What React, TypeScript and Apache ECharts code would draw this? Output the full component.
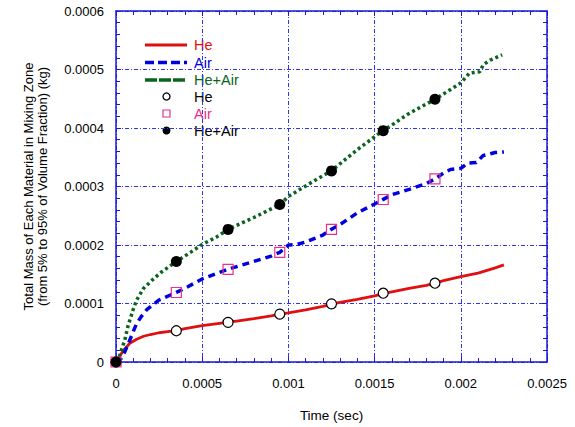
import React, { useEffect, useRef } from "react";
import * as echarts from "echarts";

// Curves (time in sec, mass in kg)
const heT = [0, 0.00001, 0.00003, 0.00005, 0.00008, 0.00012, 0.00016, 0.0002, 0.00025, 0.0003, 0.00035, 0.0004, 0.0005, 0.0006, 0.00065, 0.0007, 0.0008, 0.0009, 0.00095, 0.001, 0.0011, 0.0012, 0.00125, 0.0013, 0.0014, 0.0015, 0.00155, 0.0016, 0.0017, 0.0018, 0.00185, 0.0019, 0.002, 0.0021, 0.0022, 0.00225];
const heV = [0, 0.000004, 0.000014, 0.000022, 0.000032, 0.000039, 0.000044, 0.000047, 0.00005, 0.000052, 0.0000535, 0.000057, 0.000062, 0.000066, 0.000068, 0.00007, 0.000074, 0.000079, 0.000082, 0.000084, 0.000089, 0.000095, 0.000099, 0.000102, 0.000107, 0.000113, 0.000117, 0.00012, 0.000126, 0.000131, 0.000135, 0.000139, 0.000146, 0.000152, 0.000161, 0.000166];

const airT = [0, 0.00003, 0.00005, 0.00007, 0.0001, 0.00012, 0.00015, 0.00018, 0.00025, 0.00035, 0.0004, 0.0005, 0.00058, 0.00065, 0.0007, 0.0008, 0.0009, 0.00095, 0.001, 0.00105, 0.0011, 0.0012, 0.00125, 0.0013, 0.0014, 0.0015, 0.00155, 0.0016, 0.0017, 0.0018, 0.00185, 0.0019, 0.00194, 0.002, 0.00204, 0.00209, 0.00213, 0.0022, 0.00225];
const airV = [0, 0.000006, 0.000017, 0.00003, 0.000052, 0.000066, 0.000079, 0.00009, 0.000106, 0.000119, 0.000126, 0.000142, 0.000151, 0.0001585, 0.000163, 0.000172, 0.000181, 0.0001875, 0.0002, 0.000201, 0.000205, 0.000217, 0.000227, 0.000235, 0.000255, 0.00027, 0.000278, 0.000286, 0.000295, 0.000305, 0.000313, 0.000323, 0.000329, 0.000331, 0.00034, 0.000341, 0.000353, 0.000358, 0.000359];

const mixT = [0, 0.00002, 0.00004, 0.00005, 0.00007, 0.0001, 0.00012, 0.00014, 0.00016, 0.00021, 0.00026, 0.00035, 0.00043, 0.0005, 0.00058, 0.00065, 0.0008, 0.00095, 0.001, 0.0011, 0.00125, 0.0014, 0.00155, 0.0016, 0.00169, 0.00175, 0.00185, 0.00192, 0.002, 0.00205, 0.00211, 0.00213, 0.00217, 0.00224];
const mixV = [0, 0.00001, 0.000028, 0.000036, 0.000062, 0.00009, 0.000106, 0.000116, 0.000126, 0.00014, 0.000153, 0.0001717, 0.000187, 0.000201, 0.000213, 0.0002267, 0.000247, 0.000269, 0.000283, 0.000301, 0.000327, 0.000363, 0.000396, 0.000405, 0.000423, 0.000433, 0.000449, 0.000462, 0.000477, 0.000494, 0.000496, 0.000508, 0.000516, 0.000525];

// Markers
const markT = [0, 0.00035, 0.00065, 0.00095, 0.00125, 0.00155, 0.00185];
const heMark = [0, 0.0000534, 0.0000677, 0.0000818, 0.0000994, 0.0001176, 0.0001347];
const airMark = [0, 0.0001188, 0.0001585, 0.0001875, 0.0002267, 0.0002778, 0.0003131];
const mixMark = [0, 0.0001717, 0.0002267, 0.0002693, 0.0003267, 0.0003955, 0.000449];

const xTicks = [0, 0.0025, 0.0005];
const yTicks = [0, 0.0006, 0.0001];

const RED = "#e01010";
const BLUE = "#0000dd";
const GREEN = "#0a6420";
const MAGENTA = "#e8308c";
const AXIS = "#1a1ad8";
const FONT = "Liberation Sans, Arial, sans-serif";

const zip = (t: number[], v: number[]) => t.map((x, i) => [x, v[i]]);
const fmt = (v: number) => (v === 0 ? "0" : String(parseFloat(v.toFixed(5))));

export default function App() {
  const ref = useRef<HTMLDivElement>(null);
  useEffect(() => {
    if (!ref.current) return;
    const chart = echarts.init(ref.current, null, { renderer: "svg" });
    const axisCommon = {
      axisLine: { show: true, onZero: false, lineStyle: { color: AXIS, width: 1.5 } },
      axisTick: { show: true, inside: true, length: 5, lineStyle: { color: AXIS, width: 1 } },
      minorTick: { show: true, splitNumber: 5, length: 4, lineStyle: { color: AXIS, width: 1 } },
    };
    const gridLine = { show: true, lineStyle: { color: "#3333ee", width: 1, type: [4, 2, 1, 2] } };
    const legendX = 145;
    const legendRows = [45, 62.5, 80, 96.5, 113.5, 130.5];
    const legendTexts = [
      { t: "He", c: RED },
      { t: "Air", c: BLUE },
      { t: "He+Air", c: GREEN },
      { t: "He", c: "#000" },
      { t: "Air", c: MAGENTA },
      { t: "He+Air", c: "#000" },
    ];
    chart.setOption({
      animation: false,
      backgroundColor: "#fff",
      textStyle: { fontFamily: FONT },
      grid: { left: 116, top: 11, right: 28, bottom: 64, containLabel: false },
      xAxis: [
        {
          type: "value",
          min: xTicks[0],
          max: xTicks[1],
          interval: xTicks[2],
          position: "bottom",
          ...axisCommon,
          splitLine: gridLine,
          axisLabel: { color: "#000", fontSize: 13, margin: 15, formatter: fmt, fontFamily: FONT },
          name: "Time (sec)",
          nameLocation: "middle",
          nameGap: 46,
          nameTextStyle: { color: "#000", fontSize: 13.5, fontFamily: FONT },
        },
        {
          type: "value",
          min: xTicks[0],
          max: xTicks[1],
          interval: xTicks[2],
          position: "top",
          ...axisCommon,
          splitLine: { show: false },
          axisLabel: { show: false },
        },
      ],
      yAxis: [
        {
          type: "value",
          min: yTicks[0],
          max: yTicks[1],
          interval: yTicks[2],
          position: "left",
          ...axisCommon,
          splitLine: gridLine,
          axisLabel: { color: "#000", fontSize: 13, margin: 12, formatter: fmt, fontFamily: FONT },
          name: "Total Mass of Each Material in Mixing Zone\n(from 5% to 95% of Volume Fraction) (kg)",
          nameLocation: "middle",
          nameGap: 67,
          nameTextStyle: { color: "#000", fontSize: 13, lineHeight: 14, fontFamily: FONT },
        },
        {
          type: "value",
          min: yTicks[0],
          max: yTicks[1],
          interval: yTicks[2],
          position: "right",
          ...axisCommon,
          splitLine: { show: false },
          axisLabel: { show: false },
        },
      ],
      series: [
        {
          type: "line",
          data: zip(heT, heV),
          showSymbol: false,
          lineStyle: { color: RED, width: 2.8 },
          z: 3,
        },
        {
          type: "line",
          data: zip(airT, airV),
          showSymbol: false,
          lineStyle: { color: BLUE, width: 3.5, type: [7, 5] },
          z: 3,
        },
        {
          type: "line",
          data: zip(mixT, mixV),
          showSymbol: false,
          lineStyle: { color: GREEN, width: 3.5, type: [3, 3] },
          z: 3,
        },
        {
          type: "scatter",
          data: zip(markT, heMark),
          symbol: "circle",
          symbolSize: 10,
          itemStyle: { color: "#fff", borderColor: "#000", borderWidth: 1.2, opacity: 1 },
          z: 5,
        },
        {
          type: "scatter",
          data: zip(markT, airMark),
          symbol: "rect",
          symbolSize: 10,
          itemStyle: { color: "rgba(255,255,255,0)", borderColor: MAGENTA, borderWidth: 1.2, opacity: 1 },
          z: 6,
        },
        {
          type: "scatter",
          data: zip(markT, mixMark),
          symbol: "circle",
          symbolSize: 11,
          itemStyle: { color: "#000", opacity: 1 },
          z: 7,
        },
      ],
      graphic: [
        { type: "line", shape: { x1: legendX, y1: legendRows[0], x2: legendX + 42, y2: legendRows[0] }, style: { stroke: RED, lineWidth: 2.8 } },
        { type: "line", shape: { x1: legendX, y1: legendRows[1], x2: legendX + 42, y2: legendRows[1] }, style: { stroke: BLUE, lineWidth: 3.5, lineDash: [9, 4] } },
        { type: "line", shape: { x1: legendX, y1: legendRows[2], x2: legendX + 42, y2: legendRows[2] }, style: { stroke: GREEN, lineWidth: 3.5, lineDash: [12, 2] } },
        { type: "circle", shape: { cx: legendX + 21.5, cy: legendRows[3], r: 3.5 }, style: { fill: "#fff", stroke: "#000", lineWidth: 1.3 } },
        { type: "rect", shape: { x: legendX + 18, y: legendRows[4] - 3.5, width: 7, height: 7 }, style: { fill: "none", stroke: MAGENTA, lineWidth: 1.2 } },
        { type: "circle", shape: { cx: legendX + 21.5, cy: legendRows[5], r: 4 }, style: { fill: "#000" } },
        ...legendTexts.map((lt, i) => ({
          type: "text",
          x: legendX + 49,
          y: legendRows[i],
          style: { text: lt.t, fill: lt.c, font: `14.5px ${FONT}`, verticalAlign: "middle" },
        })),
      ],
    });
    return () => chart.dispose();
  }, []);
  return <div ref={ref} style={{ position: "absolute", left: 0, top: 0, width: 575, height: 427 }} />;
}
